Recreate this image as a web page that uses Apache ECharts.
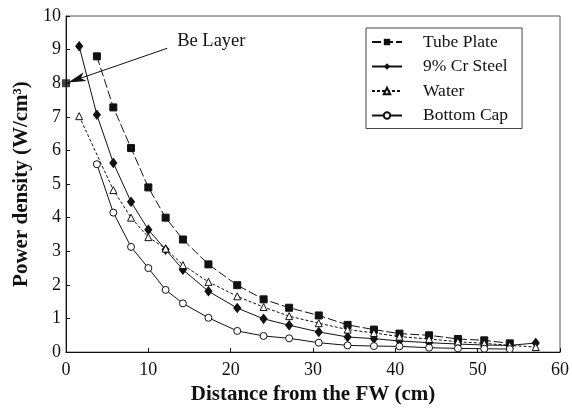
<!DOCTYPE html>
<html>
<head>
<meta charset="utf-8">
<script src="https://cdn.jsdelivr.net/npm/echarts@6/dist/echarts.min.js"></script>
<style>
html,body{margin:0;padding:0;background:#fff;}
#chart{width:572px;height:410px;}
</style>
</head>
<body>
<div id="chart"></div>
<script>
// ---- data ----
var beLayerX = [0];
var beLayerY = [8.0];

var tubeX = [3.75, 5.75, 7.9, 10.0, 12.1, 14.2, 17.3, 20.8, 24.0, 27.1, 30.7, 34.2, 37.4, 40.5, 44.1, 47.6, 50.8, 53.9];
var tubeY = [8.8, 7.28, 6.07, 4.9, 4.0, 3.35, 2.61, 1.99, 1.57, 1.32, 1.09, 0.81, 0.67, 0.55, 0.5, 0.39, 0.35, 0.26];

var steelX = [1.6, 3.75, 5.75, 7.9, 10.0, 12.1, 14.2, 17.3, 20.8, 24.0, 27.1, 30.7, 34.2, 37.4, 40.5, 44.1, 47.6, 50.8, 53.9, 57.05];
var steelY = [9.1, 7.06, 5.63, 4.47, 3.64, 3.05, 2.45, 1.81, 1.31, 0.99, 0.80, 0.60, 0.45, 0.40, 0.33, 0.28, 0.24, 0.21, 0.20, 0.27];

var waterX = [1.6, 5.75, 7.9, 10.0, 12.1, 14.2, 17.3, 20.8, 24.0, 27.1, 30.7, 34.2, 37.4, 40.5, 44.1, 47.6, 50.8, 53.9, 57.05];
var waterY = [7.02, 4.82, 4.0, 3.42, 3.08, 2.59, 2.09, 1.66, 1.34, 1.07, 0.86, 0.67, 0.57, 0.46, 0.39, 0.31, 0.26, 0.2, 0.15];

var capX = [3.75, 5.75, 7.9, 10.0, 12.1, 14.2, 17.3, 20.8, 24.0, 27.1, 30.7, 34.2, 37.4, 40.5, 44.1, 47.6, 50.8, 53.9];
var capY = [5.59, 4.15, 3.13, 2.5, 1.85, 1.45, 1.02, 0.63, 0.48, 0.41, 0.28, 0.2, 0.18, 0.17, 0.13, 0.11, 0.10, 0.09];

var seriesNames = ['Tube Plate', '9% Cr Steel', 'Water', 'Bottom Cap'];
var xTicks = [0, 10, 20, 30, 40, 50, 60];
var yTicks = [0, 1, 2, 3, 4, 5, 6, 7, 8, 9, 10];
var annotationText = 'Be Layer';
var xAxisTitle = 'Distance from the FW (cm)';
var yAxisTitle = 'Power density (W/cm\u00B3)';

function zip(xs, ys) { return xs.map(function (x, i) { return [x, ys[i]]; }); }

var FONT = 'Liberation Serif';
var INK = '#111';

var chart = echarts.init(document.getElementById('chart'), null, { renderer: 'canvas' });
chart.setOption({
  animation: false,
  backgroundColor: '#fff',
  textStyle: { fontFamily: FONT, color: INK },
  grid: { left: 66, right: 11, top: 16, bottom: 51, show: true, borderColor: '#555', borderWidth: 1 },
  legend: {
    data: seriesNames,
    orient: 'vertical',
    left: 366, top: 28,
    itemWidth: 30, itemHeight: 8,
    itemGap: 6.5,
    padding: [5, 14, 4, 5],
    borderColor: '#444', borderWidth: 1,
    backgroundColor: '#fff',
    textStyle: { fontFamily: FONT, fontSize: 17.5, color: INK, padding: [0, 0, 0, 16] }
  },
  xAxis: {
    type: 'value', min: xTicks[0], max: xTicks[xTicks.length - 1], interval: 10,
    name: xAxisTitle, nameLocation: 'middle', nameGap: 28,
    nameTextStyle: { fontFamily: FONT, fontSize: 21, fontWeight: 'bold', color: INK },
    axisLine: { lineStyle: { color: INK, width: 1 } },
    axisTick: { inside: true, length: 4, lineStyle: { color: INK } },
    axisLabel: { fontFamily: FONT, fontSize: 18, color: INK, margin: 9 },
    splitLine: { show: false }
  },
  yAxis: {
    type: 'value', min: yTicks[0], max: yTicks[yTicks.length - 1], interval: 1,
    name: yAxisTitle, nameLocation: 'middle', nameGap: 29, nameRotate: 90,
    nameTextStyle: { fontFamily: FONT, fontSize: 21, fontWeight: 'bold', color: INK },
    axisLine: { show: true, lineStyle: { color: INK, width: 1 } },
    axisTick: { show: true, inside: true, length: 4, lineStyle: { color: INK } },
    axisLabel: { fontFamily: FONT, fontSize: 18, color: INK, margin: 5 },
    splitLine: { show: false }
  },
  series: [
    {
      name: seriesNames[0], type: 'line', data: zip(tubeX, tubeY),
      symbol: 'rect', symbolSize: 7, showAllSymbol: true,
      lineStyle: { color: INK, width: 1, type: [9, 3] },
      itemStyle: { color: INK, borderColor: INK }
    },
    {
      name: seriesNames[1], type: 'line', data: zip(steelX, steelY),
      symbol: 'diamond', symbolSize: [7, 9], showAllSymbol: true,
      lineStyle: { color: INK, width: 1, type: 'solid' },
      itemStyle: { color: INK, borderColor: INK }
    },
    {
      name: seriesNames[2], type: 'line', data: zip(waterX, waterY),
      symbol: 'triangle', symbolSize: 7, showAllSymbol: true,
      lineStyle: { color: INK, width: 1, type: [3, 2] },
      itemStyle: { color: '#fff', borderColor: INK, borderWidth: 1 }
    },
    {
      name: seriesNames[3], type: 'line', data: zip(capX, capY),
      symbol: 'circle', symbolSize: 7, showAllSymbol: true,
      lineStyle: { color: INK, width: 1, type: 'solid' },
      itemStyle: { color: '#fff', borderColor: INK, borderWidth: 1 }
    },
    {
      name: 'Be Layer', type: 'scatter', data: zip(beLayerX, beLayerY),
      symbol: 'rect', symbolSize: 8,
      itemStyle: { color: INK },
      markLine: {
        silent: true, animation: false,
        symbol: ['none', 'arrow'], symbolSize: [7, 18],
        lineStyle: { color: INK, width: 1, type: 'solid' },
        label: { show: false },
        data: [[{ coord: [12.3, 9.04] }, { coord: [0.25, 8.02] }]]
      },
      markPoint: {
        silent: true, symbol: 'circle', symbolSize: 0,
        label: { show: true, position: 'right', distance: 0, formatter: annotationText,
                 fontFamily: FONT, fontSize: 18.5, color: INK },
        data: [{ coord: [13.5, 9.26] }]
      }
    }
  ]
});
</script>
</body>
</html>
